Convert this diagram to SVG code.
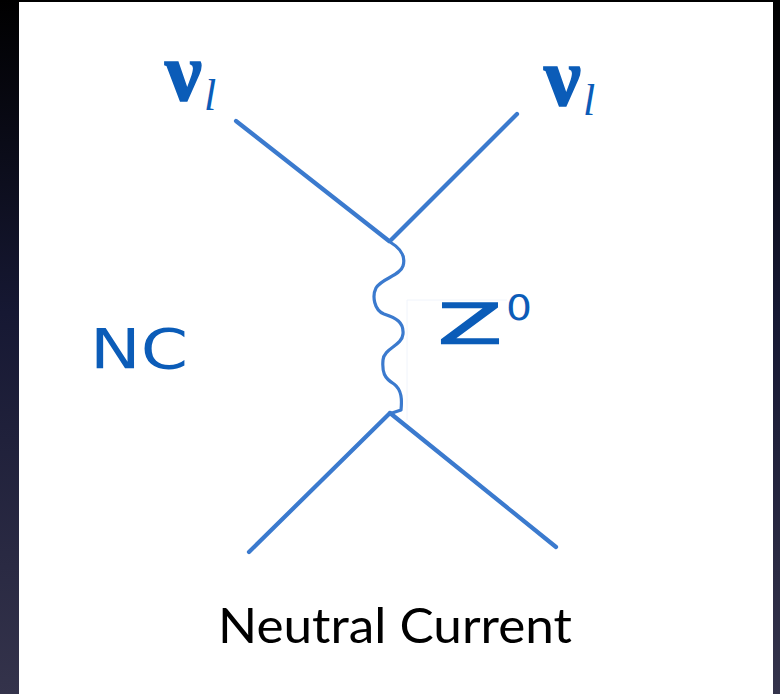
<svg xmlns="http://www.w3.org/2000/svg" width="780" height="694" viewBox="0 0 780 694">
  <defs>
    <linearGradient id="bg" x1="0" y1="0" x2="0" y2="1">
      <stop offset="0" stop-color="#000000"/>
      <stop offset="0.45" stop-color="#161833"/>
      <stop offset="1" stop-color="#34334b"/>
    </linearGradient>
    <filter id="soft" x="-5%" y="-5%" width="110%" height="110%">
      <feGaussianBlur stdDeviation="0.7"/>
    </filter>
  </defs>
  <style>
    .line { fill: none; stroke: #3a7ace; stroke-width: 4.2; stroke-linecap: round; stroke-linejoin: round; }
    .wave { fill: none; stroke: #3a7ace; stroke-width: 3.2; stroke-linecap: round; stroke-linejoin: round; }
    .nu { font-family: "Liberation Serif", "DejaVu Serif", serif; font-weight: bold; font-size: 82px; fill: #0b5cb8; stroke: #0b5cb8; stroke-width: 1.5; }
    .sub { font-family: "Liberation Serif", "DejaVu Serif", serif; font-style: italic; font-size: 44px; fill: #0b5cb8; }
    .hand { font-family: "DejaVu Sans", "Liberation Sans", sans-serif; fill: #0b5cb8; }
    .caption { font-family: "Lato", "Liberation Sans", sans-serif; font-size: 49px; fill: #000000; }
  </style>

  <rect x="0" y="0" width="780" height="694" fill="url(#bg)"/>
  <rect x="19" y="2" width="754" height="692" fill="#ffffff"/>

  <g id="connectors" filter="url(#soft)">
    <line class="line" x1="236" y1="121" x2="389" y2="241"/>
    <line class="line" x1="517" y1="114" x2="391" y2="240"/>
    <line class="line" x1="249" y1="552" x2="390" y2="413"/>
    <line class="line" x1="390" y1="413" x2="556" y2="547"/>
    <path class="wave" d="M390,242 C400,248 406,256 403,266 C400,276 382,278 376,288 C372,296 374,310 384,314 C396,318 404,322 403,334 C402,346 384,348 383,360 C382,372 384,378 394,384 C402,390 402,400 401,410 L392,413"/>
    <path d="M407,300 L507,300 M407,300 L407,420" fill="none" stroke="#f0f4fb" stroke-width="1"/>
  </g>

  <g id="nu-in">
    <text class="nu" x="165" y="100" textLength="37" lengthAdjust="spacingAndGlyphs">ν</text>
    <text class="sub" x="204" y="110">l</text>
  </g>
  <g id="nu-out">
    <text class="nu" x="544" y="105" textLength="37" lengthAdjust="spacingAndGlyphs">ν</text>
    <text class="sub" x="583" y="115">l</text>
  </g>
  <g id="label-nc">
    <text class="hand" x="90" y="368" font-size="56" textLength="98" lengthAdjust="spacingAndGlyphs">NC</text>
  </g>
  <g id="label-z0">
    <text class="hand" x="438" y="343" font-size="56" stroke="#0b5cb8" stroke-width="1.5" textLength="64" lengthAdjust="spacingAndGlyphs">Z</text>
    <text class="hand" x="506" y="320" font-size="36" textLength="26" lengthAdjust="spacingAndGlyphs">0</text>
  </g>
  <g id="caption">
    <text class="caption" x="218" y="643" textLength="354" lengthAdjust="spacingAndGlyphs">Neutral Current</text>
  </g>
</svg>
